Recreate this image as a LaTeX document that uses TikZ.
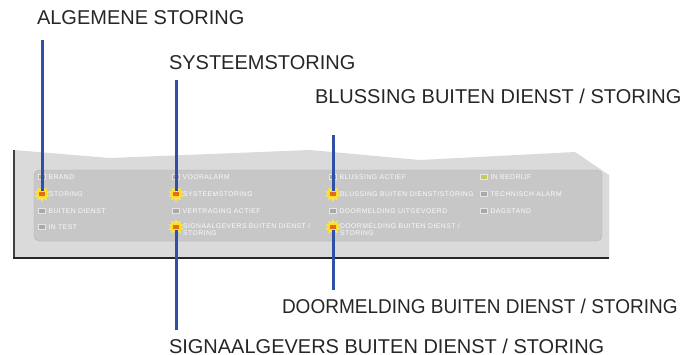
\documentclass[tikz,border=0pt]{standalone}
\usepackage{fontspec}
\setmainfont{Liberation Sans}
\newfontfamily\smal[FakeStretch=0.95]{Liberation Sans}
\newfontfamily\wijd[LetterSpace=7]{Liberation Sans}
\usepackage{xcolor}
\usetikzlibrary{shapes.geometric, positioning}

\definecolor{paneel}{HTML}{DBDADB}
\definecolor{veld}{HTML}{C7C7C7}
\definecolor{rand}{HTML}{B3B3B3}
\definecolor{lijn}{HTML}{2E50A5}
\definecolor{ledoff}{HTML}{A9A9A9}
\definecolor{ledon}{HTML}{E5691F}
\definecolor{gloed}{HTML}{FFE11A}
\definecolor{groen}{HTML}{C5CB55}

\begin{document}
\begin{tikzpicture}[x=1pt, y=-1pt, every node/.style={inner sep=0pt, outer sep=0pt},
  txt/.style={text=white!96!gray, font=\wijd\fontsize{6.8}{7}\selectfont, align=left},
  led/.style={draw=white!80!gray, fill=ledoff, line width=0.5pt, minimum width=7pt, minimum height=5pt},
  ledaan/.style={draw=gloed, fill=ledon, line width=1.3pt, minimum width=8pt, minimum height=6pt},
  gloei/.style={star, star points=10, star point ratio=1.7, fill=gloed!75!white, minimum size=16pt},
  kop/.style={anchor=west, text=black!85, font=\fontsize{20}{22}\selectfont},
  wijzer/.style={draw=lijn, line width=3pt}]

\useasboundingbox (0,0) rectangle (695,354);

% behuizing
\fill[paneel] (14,150) -- (110,158) -- (310,150) -- (420,160) -- (575,152) -- (609,175) -- (609,258) -- (14,258) -- cycle;
\draw[black!75, line width=1.5pt] (14,150) -- (14,258);
\draw[black!85, line width=2pt] (13,258) -- (609,258);
\draw[rand, fill=veld, rounded corners=5pt] (34,170) rectangle (602,241);

% gloed achter de actieve leds
\foreach \p in {(42,194), (176,194), (176,227), (333,194), (333,227)}
  \node[gloei] at \p {};

% kolom 1
\node(l11)[led] at (42,177) {};
\node(l21)[ledaan] at (42,194) {};
\node(l31)[led] at (42,211) {};
\node(l41)[led] at (42,227) {};
\node[txt, right=3pt of l11]{BRAND};
\node[txt, right=3pt of l21]{STORING};
\node[txt, right=3pt of l31]{BUITEN DIENST};
\node[txt, right=3pt of l41]{IN TEST};

% kolom 2
\node(l12)[led] at (176,177) {};
\node(l22)[ledaan] at (176,194) {};
\node(l32)[led] at (176,211) {};
\node(l42)[ledaan] at (176,227) {};
\node[txt, right=3pt of l12]{VOORALARM};
\node[txt, right=3pt of l22]{SYSTEEMSTORING};
\node[txt, right=3pt of l32]{VERTRAGING ACTIEF};
\node[txt, right=3pt of l42.north east, anchor=north west]{SIGNAALGEVERS BUITEN DIENST /\\STORING};

% kolom 3
\node(l13)[led] at (333,177) {};
\node(l23)[ledaan] at (333,194) {};
\node(l33)[led] at (333,211) {};
\node(l43)[ledaan] at (333,227) {};
\node[txt, right=3pt of l13]{BLUSSING ACTIEF};
\node[txt, right=3pt of l23]{BLUSSING BUITEN DIENST/STORING};
\node[txt, right=3pt of l33]{DOORMELDING UITGEVOERD};
\node[txt, right=3pt of l43.north east, anchor=north west]{DOORMELDING BUITEN DIENST /\\STORING};

% kolom 4
\node(l14)[led, fill=groen] at (484,177) {};
\node(l24)[led] at (484,194) {};
\node(l34)[led] at (484,211) {};
\node[txt, right=3pt of l14]{IN BEDRIJF};
\node[txt, right=3pt of l24]{TECHNISCH ALARM};
\node[txt, right=3pt of l34]{DAGSTAND};

% verwijzingen
\node(algemeen)[kop] at (37,18) {ALGEMENE STORING};
\node(systeem)[kop] at (169,63) {SYSTEEMSTORING};
\node(blussing)[kop] at (315,96) {BLUSSING BUITEN DIENST / STORING};
\node(doormelding)[kop, font=\smal\fontsize{20}{22}\selectfont] at (282,306) {DOORMELDING BUITEN DIENST / STORING};
\node(signaal)[kop] at (169,346) {SIGNAALGEVERS BUITEN DIENST / STORING};

\coordinate (k1) at (l21.north |- 0,40);
\coordinate (k2) at (l22.north |- 0,80);
\coordinate (k3) at (l23.north |- 0,135);
\coordinate (k4) at (l42.south |- 0,330);
\coordinate (k5) at (l43.south |- 0,290);

\draw[wijzer] (k1) -- (l21.north);
\draw[wijzer] (k2) -- (l22.north);
\draw[wijzer] (k3) -- (l23.north);
\draw[wijzer] (l42.south) -- (k4);
\draw[wijzer] (l43.south) -- (k5);
\end{tikzpicture}
\end{document}
